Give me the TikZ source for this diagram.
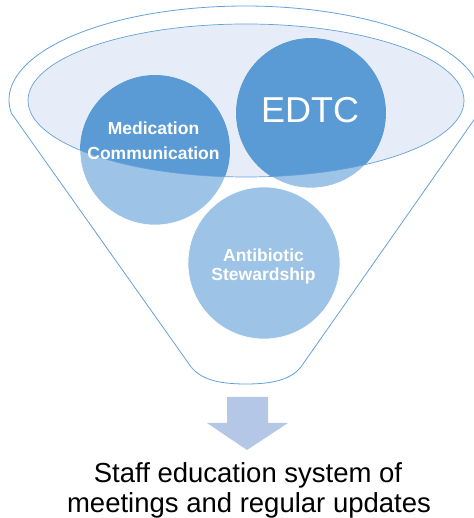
\documentclass[tikz,border=0pt]{standalone}
\usepackage{fontspec}
\setmainfont{Liberation Sans}
\definecolor{dk}{RGB}{91,155,213}
\definecolor{lt}{RGB}{157,195,230}
\definecolor{elfill}{RGB}{230,237,248}
\definecolor{edge}{RGB}{100,160,218}
\definecolor{arr}{RGB}{180,199,231}
\begin{document}
\begin{tikzpicture}[x=1pt,y=1pt,
  circlabel/.style={text=white,font=\bfseries\fontsize{17.5}{19}\selectfont,anchor=base,inner sep=0pt},
  bigcirc/.style={circle,fill=lt,draw=white,line width=0.6pt,minimum size=150pt,inner sep=0pt},
  outline/.style={draw=edge,line width=0.8pt},
  caption/.style={font=\fontsize{27.5}{30}\selectfont,anchor=base,inner sep=0pt}]
\useasboundingbox (0,0) rectangle (473,518);
% funnel outline
\path[outline] (11.3,404.9) arc[start angle=188,end angle=-8,x radius=236,y radius=94]
  -- (303,154) .. controls (293,138) and (272,134) .. (246,134)
  .. controls (220,134) and (199,138) .. (189,154) -- cycle;
% inner ellipse
\coordinate (ec) at (246,417.5);
\fill[elfill] (ec) ellipse[x radius=218,y radius=76.5];
% circles
\node[bigcirc] (med) at (155,368) {};
\node[bigcirc] (edtc) at (311,405) {};
\node[bigcirc,minimum size=152pt] (abx) at (264,255) {};
\begin{scope}
  \clip (ec) ellipse[x radius=218,y radius=76.5];
  \fill[dk] (med.center) circle[radius=75];
  \fill[dk] (edtc.center) circle[radius=75];
\end{scope}
\draw[edge,line width=0.7pt] (ec) ellipse[x radius=218,y radius=76.5];
% labels
\node[circlabel] (med1) at (153.5,383.5) {Medication};
\node[circlabel] (med2) at (153.5,358) {Communication};
\node[text=white,font=\fontsize{36}{40}\selectfont,anchor=base,inner sep=0pt] (edtcl) at (310,395) {EDTC};
\node[circlabel] (abx1) at (263.5,256) {Antibiotic};
\node[circlabel] (abx2) at (263.5,237) {Stewardship};
% arrow
\fill[arr] (227,121) -- (268,121) -- (268,95) -- (288,95) -- (247,68) -- (207,95) -- (227,95) -- cycle;
% caption
\node[caption] (cap1) at (248,35.3) {Staff education system of};
\node[caption] (cap2) at (249,5.3) {meetings and regular updates};
\end{tikzpicture}
\end{document}
